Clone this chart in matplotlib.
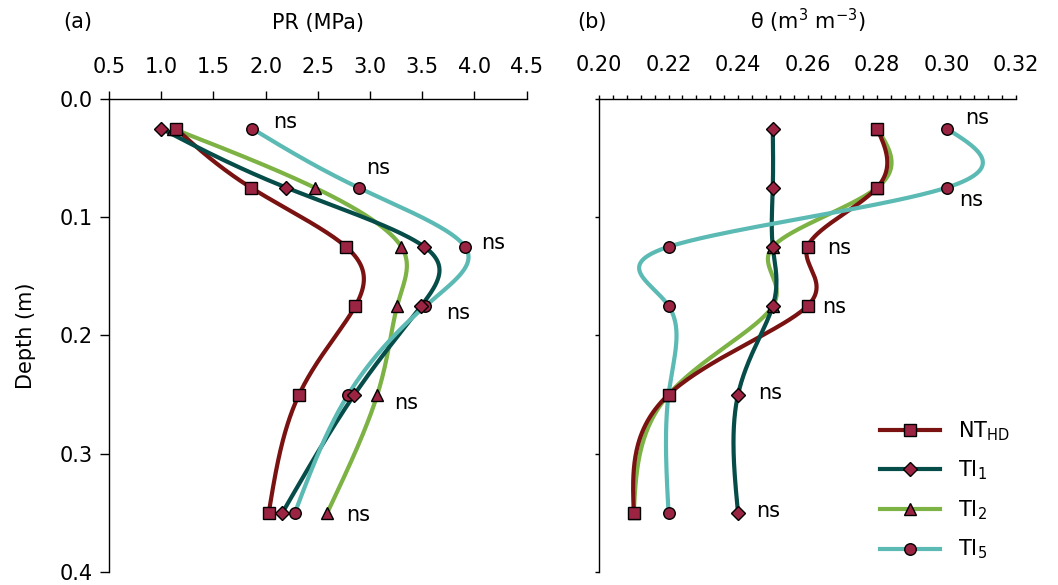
import numpy as np
import matplotlib.pyplot as plt
from matplotlib.lines import Line2D
from matplotlib.ticker import FormatStrFormatter, MultipleLocator, NullFormatter

# Profundidade das medições (m)
depth = [0.025, 0.075, 0.125, 0.175, 0.25, 0.35]

# (a) resistência à penetração, MPa
pr_nt = [1.14, 1.86, 2.77, 2.86, 2.32, 2.03]
pr_ti1 = [1.00, 2.20, 3.52, 3.49, 2.85, 2.16]
pr_ti2 = [1.11, 2.47, 3.30, 3.26, 3.07, 2.59]
pr_ti5 = [1.87, 2.89, 3.91, 3.53, 2.79, 2.28]

# (b) umidade volumétrica, m3 m-3
th_nt = [0.28, 0.28, 0.26, 0.26, 0.22, 0.21]
th_ti1 = [0.25, 0.25, 0.25, 0.25, 0.24, 0.24]
th_ti2 = [0.28, 0.28, 0.25, 0.25, 0.22, 0.21]
th_ti5 = [0.30, 0.30, 0.22, 0.22, 0.22, 0.22]

labels = [r'NT$_{\mathregular{HD}}$', r'TI$_{\mathregular{1}}$',
          r'TI$_{\mathregular{2}}$', r'TI$_{\mathregular{5}}$']

# rótulos "ns" (x, profundidade)
ns_a = [(2.07, 0.0195), (2.96, 0.058), (4.06, 0.122),
        (3.73, 0.181), (3.23, 0.257), (2.77, 0.352)]
ns_b = [(0.3053, 0.0163), (0.3036, 0.0854), (0.2655, 0.126),
        (0.2641, 0.1756), (0.2458, 0.2489), (0.2452, 0.3484)]

colors = ['#7a1212', '#064c48', '#7db244', '#5cbab4']
markers = ['s', 'D', '^', 'o']
msizes = [8, 7, 9, 8.3]
face = '#9c2443'
line_z = [3, 4, 2, 5]      # ordem das linhas
mark_z = [8, 9, 6, 7]      # ordem dos marcadores

FS = 15
plt.rcParams['font.family'] = 'DejaVu Sans'
plt.rcParams['font.size'] = FS


def natural_spline(v, n=60):
    # spline cúbica natural com parâmetro = índice do ponto
    v = np.asarray(v, dtype=float)
    k = len(v)
    A = np.zeros((k, k))
    b = np.zeros(k)
    A[0, 0] = A[-1, -1] = 1
    for i in range(1, k - 1):
        A[i, i - 1], A[i, i], A[i, i + 1] = 1, 4, 1
        b[i] = 6 * (v[i + 1] - 2 * v[i] + v[i - 1])
    M = np.linalg.solve(A, b)
    out = []
    for i in range(k - 1):
        t = np.linspace(0, 1, n, endpoint=(i == k - 2))
        s = ((1 - t) * v[i] + t * v[i + 1]
             + ((1 - t) ** 3 - (1 - t)) * M[i] / 6
             + (t ** 3 - t) * M[i + 1] / 6)
        out.append(s)
    return np.concatenate(out)


def draw(ax, series):
    for j, xs in enumerate(series):
        ax.plot(natural_spline(xs), natural_spline(depth), color=colors[j],
                lw=3, solid_capstyle='round', zorder=line_z[j])
        ax.plot(xs, depth, ls='none', marker=markers[j], ms=msizes[j],
                mfc=face, mec='black', mew=1, zorder=mark_z[j], clip_on=False)


def style(ax):
    ax.set_ylim(0.4, 0.0)
    ax.xaxis.tick_top()
    ax.xaxis.set_label_position('top')
    ax.spines['right'].set_visible(False)
    ax.spines['bottom'].set_visible(False)
    for s in ('left', 'top'):
        ax.spines[s].set_linewidth(1)
    ax.yaxis.set_major_locator(MultipleLocator(0.1))


fig = plt.figure(figsize=(10.58, 5.85), dpi=100)
ax1 = fig.add_axes([0.1030, 0.0222, 0.3948, 0.8086])
ax2 = fig.add_axes([0.5662, 0.0222, 0.3941, 0.8086])

# (a)
draw(ax1, [pr_nt, pr_ti1, pr_ti2, pr_ti5])
style(ax1)
ax1.set_xlim(0.5, 4.5)
ax1.set_xticks(np.arange(0.5, 4.51, 0.5))
ax1.xaxis.set_major_formatter(FormatStrFormatter('%.1f'))
ax1.yaxis.set_major_formatter(FormatStrFormatter('%.1f'))
ax1.tick_params(axis='x', length=6, width=1, pad=10, labelsize=FS)
ax1.tick_params(axis='y', length=6.5, width=1, pad=5, labelsize=FS)
ax1.set_xlabel('PR (MPa)', fontsize=FS, labelpad=20)
ax1.set_ylabel('Depth (m)', fontsize=FS, labelpad=17)
for x, y in ns_a:
    ax1.text(x, y, 'ns', fontsize=FS, ha='left', va='center')

# (b)
draw(ax2, [th_nt, th_ti1, th_ti2, th_ti5])
style(ax2)
ax2.set_xlim(0.20, 0.32)
ax2.xaxis.set_major_locator(MultipleLocator(0.02))
ax2.xaxis.set_minor_locator(MultipleLocator(0.004))
ax2.xaxis.set_major_formatter(FormatStrFormatter('%.2f'))
ax2.yaxis.set_major_formatter(NullFormatter())
ax2.tick_params(axis='x', which='both', length=3, width=1, pad=14, labelsize=FS)
ax2.tick_params(axis='y', length=3, width=1)
ax2.set_xlabel(r'θ (m$^{\mathregular{3}}$ m$^{\mathregular{-3}}$)',
               fontsize=FS, labelpad=19)
for x, y in ns_b:
    ax2.text(x, y, 'ns', fontsize=FS, ha='left', va='center')

handles = [Line2D([], [], color=colors[j], lw=3, marker=markers[j],
                  ms=msizes[j], mfc=face, mec='black', mew=1)
           for j in range(4)]
ax2.legend(handles, labels, loc='center left', bbox_to_anchor=(0.674, 0.173),
           frameon=False, fontsize=FS, handlelength=2.9, handletextpad=0.85,
           labelspacing=0.77, borderpad=0, borderaxespad=0)

fig.text(77.9 / 1058, 1 - 21.7 / 585, '(a)', fontsize=FS, ha='center', va='center')
fig.text(591.7 / 1058, 1 - 21.7 / 585, '(b)', fontsize=FS, ha='center', va='center')

fig.savefig('out.png', dpi=100)
